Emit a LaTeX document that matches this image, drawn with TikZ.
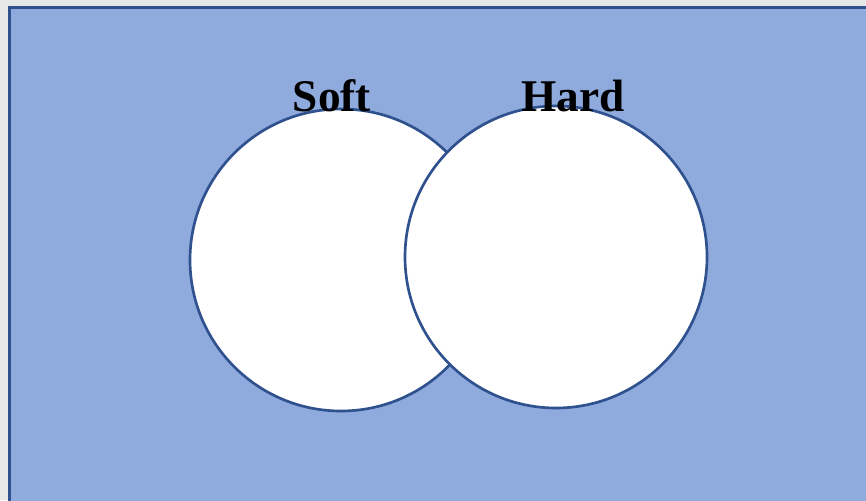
\documentclass[tikz,border=0pt]{standalone}
\usepackage{fontspec}
\setmainfont{Liberation Serif}
\definecolor{bggray}{HTML}{E7E7E7}
\definecolor{panelfill}{HTML}{8FAADC}
\definecolor{edgeblue}{HTML}{2F528F}
\begin{document}
\begin{tikzpicture}[x=0.75pt,y=-0.75pt,
  vennset/.style={circle,draw=edgeblue,line width=2pt,fill=white,minimum size=302*0.75pt,inner sep=0pt},
  setlabel/.style={font=\bfseries\fontsize{34}{40}\selectfont,anchor=base,inner sep=0pt}]
\fill[bggray] (0,0) rectangle (866,500);
\useasboundingbox (0,0) rectangle (866,500);
\fill[panelfill] (9.3,7.8) rectangle (870,504);
\draw[edgeblue,line width=2.4pt] (9.3,504) -- (9.3,7.8) -- (870,7.8);
\node[vennset] (soft) at (341,260) {};
\node[vennset] (hard) at (556,257) {};
\node[setlabel] (softlbl) at (332,111) {Soft};
\node[setlabel] (hardlbl) at (573,111) {Hard};
\end{tikzpicture}
\end{document}
